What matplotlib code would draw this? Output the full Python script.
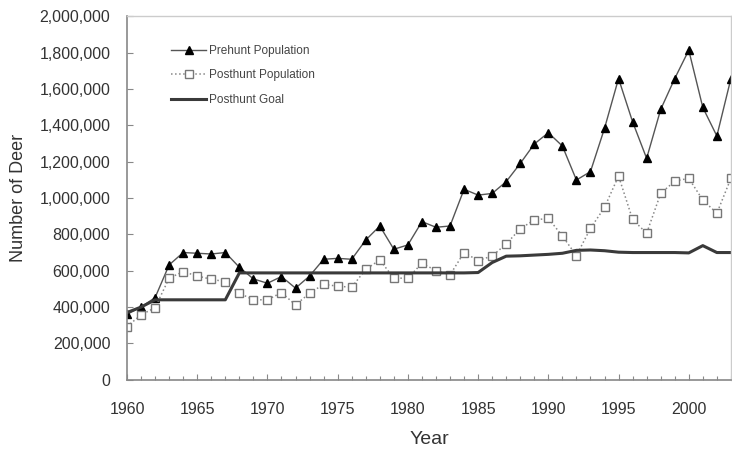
import matplotlib
matplotlib.use("Agg")
import matplotlib.pyplot as plt
from matplotlib.ticker import FuncFormatter, MultipleLocator

plt.rcParams['font.family'] = ['Liberation Sans', 'DejaVu Sans']

# years 1960-2003
years = list(range(1960, 2004))

prehunt = [360000, 400000, 452000, 632000, 700000, 696000, 692000, 700000, 619000, 555000,
           531000, 568000, 504000, 571000, 663000, 668000, 663000, 769000, 846000, 718000,
           742000, 870000, 839000, 846000, 1048000, 1016000, 1025000, 1090000, 1190000, 1297000,
           1359000, 1286000, 1099000, 1145000, 1383000, 1657000, 1419000, 1218000, 1487000, 1657000,
           1813000, 1498000, 1341000, 1657000]

posthunt = [293000, 357000, 397000, 559000, 595000, 571000, 553000, 540000, 476000, 440000,
            440000, 480000, 412000, 476000, 525000, 515000, 509000, 608000, 659000, 559000,
            559000, 641000, 601000, 577000, 700000, 656000, 681000, 747000, 831000, 879000,
            888000, 791000, 683000, 833000, 948000, 1121000, 882000, 806000, 1025000, 1093000,
            1108000, 989000, 916000, 1108000]

goal = [370000, 400000, 440000, 440000, 440000, 440000, 440000, 440000, 588000, 588000,
        588000, 588000, 588000, 588000, 588000, 588000, 588000, 588000, 588000, 588000,
        588000, 588000, 588000, 588000, 588000, 590000, 645000, 680000, 682000, 686000,
        690000, 696000, 712000, 714000, 710000, 702000, 700000, 700000, 700000, 700000,
        698000, 738000, 700000, 700000]

fig = plt.figure(figsize=(7.32, 4.5), dpi=100)
ax = fig.add_axes([0.1735, 0.156, 0.825, 0.808])

ax.plot(years, prehunt, color='#555555', lw=1.0, marker='^', ms=5.5,
        mfc='black', mec='black', label='Prehunt Population')
ax.plot(years, posthunt, color='#888888', lw=1.1, ls=':', marker='s', ms=6,
        mfc='white', mec='#777777', mew=1.0, label='Posthunt Population')
ax.plot(years, goal, color='#3a3a3a', lw=2.2, label='Posthunt Goal')

ax.set_xlim(1960, 2003)
ax.set_ylim(0, 2000000)
ax.xaxis.set_major_locator(MultipleLocator(5))
ax.xaxis.set_minor_locator(MultipleLocator(1))
ax.yaxis.set_major_locator(MultipleLocator(200000))
ax.yaxis.set_major_formatter(FuncFormatter(lambda v, p: '{:,.0f}'.format(v)))

ax.tick_params(axis='both', direction='in', labelsize=11.5, colors='#888888',
               labelcolor='#333333', length=4, width=0.8)
ax.tick_params(axis='y', pad=12)
ax.tick_params(axis='x', pad=16)
ax.tick_params(axis='x', which='minor', direction='in', length=3, width=0.8, colors='#888888')

for s in ['left', 'bottom']:
    ax.spines[s].set_color('#888888')
    ax.spines[s].set_linewidth(1.2)
for s in ['top', 'right']:
    ax.spines[s].set_color('#cccccc')
    ax.spines[s].set_linewidth(1.0)

ax.set_xlabel('Year', fontsize=14, color='#333333', labelpad=10)
ax.set_ylabel('Number of Deer', fontsize=13, color='#333333', labelpad=9)

ax.legend(loc='upper left', bbox_to_anchor=(0.055, 0.95), frameon=False,
          fontsize=8.5, handlelength=3.0, labelspacing=1.05, handletextpad=0.2,
          labelcolor='#444444')

fig.savefig('out.png', dpi=100)
